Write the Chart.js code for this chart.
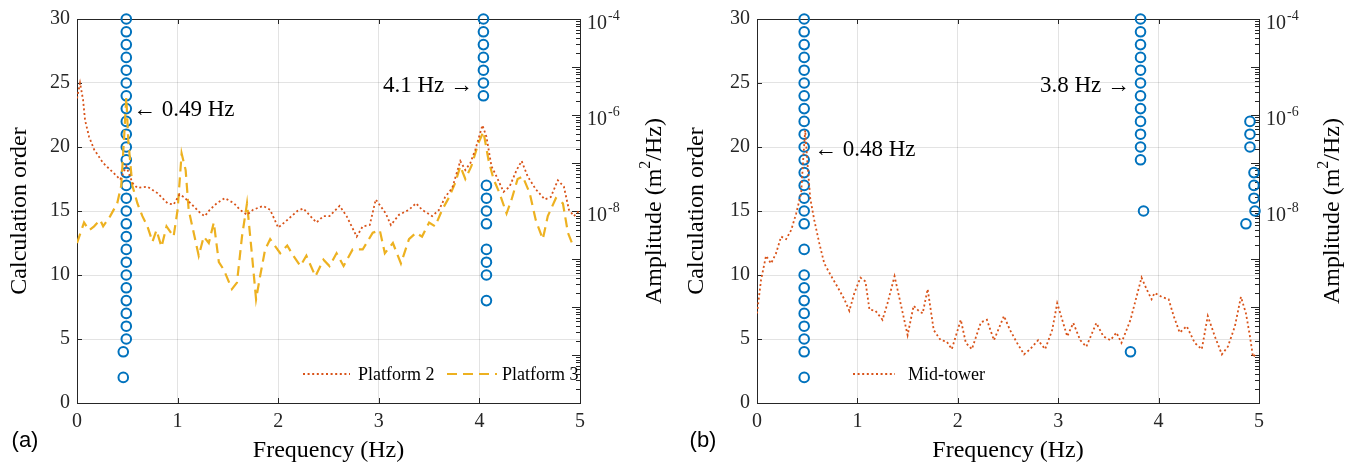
<!DOCTYPE html>
<html>
<head>
<meta charset="utf-8">
<script src="https://cdn.jsdelivr.net/npm/chart.js@4.4.1/dist/chart.umd.min.js"></script>
<style>
  html, body { margin: 0; padding: 0; background: #fff; }
  #wrap { position: relative; width: 1349px; height: 467px; }
  #chA { position: absolute; left: 0; top: 0; }
  #chB { position: absolute; left: 675px; top: 0; }
</style>
</head>
<body>
<div id="wrap">
  <canvas id="chA" width="675" height="467"></canvas>
  <canvas id="chB" width="674" height="467"></canvas>
</div>
<script>
// colors (MATLAB defaults)
var blue = "#0072BD", orange = "#D95319", yellow = "#EDB120", axisCol = "#262626";
var serif = '"Liberation Serif", "Times New Roman", serif';

/* ---- panel (a) ---- */
// Platform 2 spectrum (m^2/Hz)
var freqP2 = [0, 0.03, 0.06, 0.08, 0.12, 0.17, 0.26, 0.36, 0.43, 0.49,
  0.55, 0.6, 0.7, 0.8, 0.9, 0.96, 1.02, 1.06, 1.13, 1.23,
  1.27, 1.32, 1.39, 1.47, 1.56, 1.62, 1.69, 1.75, 1.85, 1.92,
  2.0, 2.09, 2.19, 2.25, 2.32, 2.38, 2.45, 2.51, 2.61, 2.68,
  2.78, 2.84, 2.91, 2.97, 3.07, 3.12, 3.2, 3.3, 3.37, 3.43,
  3.53, 3.6, 3.66, 3.73, 3.81, 3.86, 3.91, 3.96, 4.03, 4.07,
  4.12, 4.17, 4.24, 4.3, 4.37, 4.42, 4.48, 4.56, 4.65, 4.71,
  4.78, 4.84, 4.89, 4.94, 5.0];
var ampP2 = [2.22e-6, 4.64e-6, 2.09e-6, 7.82e-7, 3.52e-7, 1.91e-7, 1.0e-7, 6.31e-8, 4.5e-8, 8.57e-8,
  3.86e-8, 3.02e-8, 3.21e-8, 2.36e-8, 1.45e-8, 1.36e-8, 2.22e-8, 1.96e-8, 1.45e-8, 8.85e-9,
  7.82e-9, 1.06e-8, 1.45e-8, 1.85e-8, 1.45e-8, 1.06e-8, 8.32e-9, 1.06e-8, 1.28e-8, 1.06e-8,
  4.5e-9, 6.5e-9, 1.0e-8, 1.13e-8, 7.82e-9, 5.75e-9, 7.82e-9, 7.82e-9, 1.28e-8, 7.82e-9,
  2.93e-9, 4.79e-9, 5.09e-9, 1.74e-8, 8.85e-9, 5.09e-9, 8.32e-9, 1.06e-8, 1.45e-8, 1.06e-8,
  7.82e-9, 1.06e-8, 1.96e-8, 3.02e-8, 1.1e-7, 7.13e-8, 1.0e-7, 1.91e-7, 6.12e-7, 3.52e-7,
  8.57e-8, 5.25e-8, 2.51e-8, 3.21e-8, 7.13e-8, 1.1e-7, 5.25e-8, 2.84e-8, 1.74e-8, 1.96e-8,
  4.37e-8, 3.21e-8, 1.06e-8, 7.82e-9, 1.06e-8];

// Platform 3 spectrum
var freqP3 = [0, 0.07, 0.12, 0.17, 0.23, 0.26, 0.33, 0.40, 0.44, 0.47,
  0.49, 0.51, 0.55, 0.60, 0.65, 0.70, 0.75, 0.79, 0.84, 0.89,
  0.96, 1.00, 1.04, 1.08, 1.11, 1.16, 1.21, 1.26, 1.31, 1.36,
  1.41, 1.46, 1.54, 1.59, 1.64, 1.69, 1.74, 1.78, 1.82, 1.87,
  1.92, 2.02, 2.09, 2.15, 2.22, 2.28, 2.37, 2.45, 2.51, 2.58,
  2.65, 2.74, 2.84, 2.94, 3.01, 3.06, 3.14, 3.22, 3.30, 3.37,
  3.43, 3.50, 3.56, 3.63, 3.70, 3.76, 3.81, 3.86, 3.92, 3.99,
  4.04, 4.09, 4.14, 4.20, 4.27, 4.32, 4.38, 4.43, 4.50, 4.56,
  4.63, 4.68, 4.76, 4.83, 4.88, 4.92, 4.97];
var ampP3 = [2.15e-9, 5.75e-9, 3.98e-9, 4.79e-9, 6.5e-9, 4.79e-9, 7.82e-9, 1.45e-8, 3.41e-8, 3.98e-7,
  2.36e-6, 2.93e-7, 3.41e-8, 1.45e-8, 7.82e-9, 4.79e-9, 2.29e-9, 3.98e-9, 1.79e-9, 4.79e-9,
  2.93e-9, 1.06e-8, 1.58e-7, 7.13e-8, 1.06e-8, 3.52e-9, 1.17e-9, 2.93e-9, 2.15e-9, 5.75e-9,
  8.57e-10, 5.93e-10, 2.36e-10, 3.21e-10, 2.93e-9, 1.45e-8, 1.17e-9, 1.45e-10, 4.37e-10, 1.58e-9,
  2.59e-9, 1.32e-9, 1.91e-9, 1.17e-9, 7.13e-10, 1.17e-9, 4.37e-10, 9.7e-10, 7.13e-10, 1.32e-9,
  7.13e-10, 1.58e-9, 1.58e-9, 3.52e-9, 3.98e-9, 1.32e-9, 2.15e-9, 8.07e-10, 2.59e-9, 3.52e-9,
  2.93e-9, 5.75e-9, 4.79e-9, 1.06e-8, 1.96e-8, 3.86e-8, 8.57e-8, 4.64e-8, 8.57e-8, 2.59e-7,
  4.5e-7, 1.17e-7, 4.64e-8, 2.36e-8, 8.85e-9, 1.74e-8, 4.64e-8, 5.25e-8, 2.36e-8, 6.5e-9,
  2.59e-9, 7.82e-9, 1.85e-8, 1.45e-8, 3.52e-9, 2.15e-9, 2.03e-9];

// identified frequency per calculation order
var orderFreqA = [0.46, 0.46, 0.49, 0.49, 0.49, 0.49, 0.49, 0.49, 0.49, 0.49,
  0.49, 0.49, 0.49, 0.49, 0.49, 0.49, 0.49, 0.49, 0.49, 0.49,
  0.49, 0.49, 0.49, 0.49, 0.49, 0.49, 0.49, 0.49,
  4.07, 4.07, 4.07, 4.07, 4.07, 4.07, 4.07, 4.07,
  4.04, 4.04, 4.04, 4.04, 4.04, 4.04, 4.04];
var orderA = [2, 4, 5, 6, 7, 8, 9, 10, 11, 12,
  13, 14, 15, 16, 17, 18, 19, 20, 21, 22,
  23, 24, 25, 26, 27, 28, 29, 30,
  8, 10, 11, 12, 14, 15, 16, 17,
  24, 25, 26, 27, 28, 29, 30];

/* ---- panel (b) ---- */
var freqMid = [0, 0.04, 0.09, 0.14, 0.19, 0.24, 0.29, 0.34, 0.39, 0.44,
  0.46, 0.48, 0.50, 0.53, 0.57, 0.62, 0.67, 0.74, 0.80, 0.87,
  0.92, 0.97, 1.03, 1.08, 1.12, 1.18, 1.25, 1.30, 1.37, 1.43,
  1.50, 1.56, 1.61, 1.65, 1.70, 1.76, 1.83, 1.89, 1.94, 2.03,
  2.08, 2.14, 2.23, 2.29, 2.36, 2.46, 2.52, 2.59, 2.66, 2.72,
  2.80, 2.87, 2.94, 2.99, 3.04, 3.09, 3.15, 3.22, 3.28, 3.38,
  3.45, 3.52, 3.58, 3.63, 3.72, 3.78, 3.83, 3.88, 3.93, 3.96,
  4.03, 4.10, 4.15, 4.21, 4.28, 4.36, 4.43, 4.49, 4.56, 4.63,
  4.69, 4.76, 4.82, 4.87, 4.91, 4.94, 4.98];
var ampMid = [7.36e-11, 3.63e-10, 1.17e-9, 8.07e-10, 1.32e-9, 2.93e-9, 2.59e-9, 3.98e-9, 8.85e-9, 2.36e-8,
  1.17e-7, 4.79e-7, 1.17e-7, 1.85e-8, 6.5e-9, 2.15e-9, 8.07e-10, 4.37e-10, 2.67e-10, 1.45e-10,
  8.32e-11, 1.96e-10, 4.1e-10, 3.41e-10, 8.85e-11, 8.32e-11, 5.41e-11, 1.2e-10, 4.37e-10, 1.2e-10,
  2.59e-11, 1.06e-10, 8.32e-11, 7.36e-11, 2.36e-10, 3.31e-11, 2.03e-11, 1.91e-11, 1.32e-11, 5.41e-11,
  1.79e-11, 1.32e-11, 4.79e-11, 5.41e-11, 2.03e-11, 6.5e-11, 3.31e-11, 1.79e-11, 1.03e-11, 1.32e-11,
  2.03e-11, 1.32e-11, 3.31e-11, 1.2e-10, 5.41e-11, 2.44e-11, 4.64e-11, 2.03e-11, 1.49e-11, 4.64e-11,
  2.44e-11, 2.03e-11, 2.93e-11, 1.79e-11, 5.41e-11, 1.63e-10, 4.1e-10, 2.36e-10, 1.45e-10, 1.96e-10,
  1.63e-10, 1.45e-10, 6.5e-11, 2.93e-11, 3.98e-11, 1.79e-11, 1.32e-11, 6.5e-11, 2.44e-11, 1.03e-11,
  1.49e-11, 3.98e-11, 1.63e-10, 7.36e-11, 2.44e-11, 9.12e-12, 1.1e-11];

var orderFreqB = [0.47, 0.47, 0.47, 0.47, 0.47, 0.47, 0.47, 0.47, 0.47, 0.47,
  0.47, 0.47, 0.47, 0.47, 0.47, 0.47, 0.47, 0.47, 0.47, 0.47,
  0.47, 0.47, 0.47, 0.47, 0.47, 0.47,
  3.82, 3.82, 3.82, 3.82, 3.82, 3.82, 3.82, 3.82, 3.82, 3.82, 3.82, 3.82,
  3.85, 3.72,
  4.91, 4.91, 4.91, 4.95, 4.95, 4.95, 4.96, 4.87];
var orderB = [2, 4, 5, 6, 7, 8, 9, 10, 12, 14,
  15, 16, 17, 18, 19, 20, 21, 22, 23, 24,
  25, 26, 27, 28, 29, 30,
  19, 20, 21, 22, 23, 24, 25, 26, 27, 28, 29, 30,
  15, 4,
  20, 21, 22, 16, 17, 18, 15, 14];

// right axis labels
var rightTickVals = [1e-8, 1e-6, 1e-4];
var rightTickExp = ["-8", "-6", "-4"];

function pts(xs, ys) {
  return xs.map(function (x, i) { return { x: x, y: ys[i] }; });
}

function line(ctx, x1, y1, x2, y2) {
  ctx.moveTo(x1, y1);
  ctx.lineTo(x2, y2);
}

// axes box, inward ticks, labels and annotations drawn MATLAB style
function decoPlugin(opt) {
  return {
    id: "deco",
    beforeDatasetsDraw: function (chart) {
      var ctx = chart.ctx, a = chart.chartArea;
      var sx = chart.scales.x, sy = chart.scales.y, sr = chart.scales.yR;
      ctx.save();
      ctx.strokeStyle = axisCol;
      ctx.lineWidth = 1;
      ctx.beginPath();
      sx.ticks.forEach(function (t) {
        var p = Math.round(sx.getPixelForValue(t.value)) + 0.5;
        line(ctx, p, a.bottom, p, a.bottom - 5);
        line(ctx, p, a.top, p, a.top + 5);
      });
      sy.ticks.forEach(function (t) {
        var p = Math.round(sy.getPixelForValue(t.value)) + 0.5;
        line(ctx, a.left, p, a.left + 5, p);
      });
      for (var n = -12; n <= -4; n++) {
        for (var k = 1; k <= 9; k++) {
          var v = k * Math.pow(10, n);
          if (v > 1.0001e-4) break;
          var p = Math.round(sr.getPixelForValue(v)) + 0.5;
          line(ctx, a.right, p, a.right - (k === 1 ? 8 : 4), p);
        }
      }
      ctx.stroke();
      ctx.strokeRect(Math.round(a.left) + 0.5, Math.round(a.top) + 0.5,
        Math.round(a.right - a.left), Math.round(a.bottom - a.top));
      ctx.restore();
    },
    afterDraw: function (chart) {
      var ctx = chart.ctx, a = chart.chartArea, sr = chart.scales.yR;
      ctx.save();
      ctx.fillStyle = "#000";
      ctx.textBaseline = "middle";

      // right tick labels 10^-n
      rightTickVals.forEach(function (v, i) {
        var p = sr.getPixelForValue(v);
        ctx.font = "20px " + serif;
        ctx.textAlign = "left";
        ctx.fillStyle = axisCol;
        ctx.fillText("10", a.right + 7, p + 5);
        var w = ctx.measureText("10").width;
        ctx.font = "14px " + serif;
        ctx.fillText(rightTickExp[i], a.right + 7 + w + 1, p - 3);
      });
      ctx.fillStyle = "#000";

      // axis titles
      var midY = (a.top + a.bottom) / 2;
      ctx.save();
      ctx.translate(opt.leftTitleX, midY);
      ctx.rotate(-Math.PI / 2);
      ctx.font = "24px " + serif;
      ctx.textAlign = "center";
      ctx.fillText("Calculation order", 0, 0);
      ctx.restore();

      ctx.save();
      ctx.translate(opt.rightTitleX, midY);
      ctx.rotate(-Math.PI / 2);
      ctx.textAlign = "left";
      ctx.font = "24px " + serif;
      var p1 = "Amplitude (m", p2 = "2", p3 = "/Hz)";
      var w1 = ctx.measureText(p1).width, w3 = ctx.measureText(p3).width;
      ctx.font = "16px " + serif;
      var w2 = ctx.measureText(p2).width;
      var x0 = -(w1 + w2 + w3) / 2;
      ctx.font = "24px " + serif;
      ctx.fillText(p1, x0, 0);
      ctx.fillText(p3, x0 + w1 + w2, 0);
      ctx.font = "16px " + serif;
      ctx.fillText(p2, x0 + w1, -9);
      ctx.restore();

      ctx.font = "24px " + serif;
      ctx.textAlign = "center";
      ctx.fillText("Frequency (Hz)", (a.left + a.right) / 2, 451);

      ctx.font = "22px \"Liberation Sans\", Arial, sans-serif";
      ctx.fillText(opt.letter, opt.letterX, 441);

      // annotations
      ctx.font = "23px " + serif;
      opt.notes.forEach(function (nt) {
        ctx.textAlign = nt.align;
        ctx.fillText(nt.text, nt.x, nt.y);
      });

      // legend (no box)
      ctx.font = "18px " + serif;
      ctx.textAlign = "left";
      opt.legend.forEach(function (lg) {
        var ds = chart.data.datasets[lg.ds];
        ctx.save();
        ctx.strokeStyle = ds.borderColor;
        ctx.lineWidth = ds.borderWidth;
        ctx.setLineDash(ds.borderDash);
        ctx.beginPath();
        line(ctx, lg.x1, lg.y, lg.x2, lg.y);
        ctx.stroke();
        ctx.restore();
        ctx.fillStyle = "#000";
        ctx.fillText(ds.label, lg.tx, lg.y + 1);
      });
      ctx.restore();
    }
  };
}

function makePanel(id, opt) {
  var datasets = opt.lines.map(function (l) {
    return {
      label: l.label,
      data: pts(l.x, l.y),
      yAxisID: "yR",
      showLine: true,
      pointRadius: 0,
      borderColor: l.color,
      borderWidth: l.width,
      borderDash: l.dash,
      tension: 0,
      order: 1
    };
  });
  datasets.push({
    label: "order",
    data: pts(opt.orderX, opt.orderY),
    yAxisID: "y",
    showLine: false,
    pointRadius: 4.8,
    pointBorderWidth: 2,
    pointBorderColor: blue,
    pointBackgroundColor: "rgba(0,0,0,0)",
    clip: false,
    order: 2
  });

  var gridCol = "rgba(38,38,38,0.13)";
  var tickFont = { family: serif, size: 20 };

  return new Chart(document.getElementById(id), {
    type: "scatter",
    data: { datasets: datasets },
    options: {
      responsive: false,
      animation: false,
      events: [],
      layout: { padding: { top: 19, left: 0, right: 0, bottom: 0 } },
      plugins: { legend: { display: false }, tooltip: { enabled: false } },
      scales: {
        x: {
          type: "linear", min: 0, max: 5,
          ticks: { stepSize: 1, color: axisCol, font: tickFont, padding: 7 },
          grid: { color: gridCol, drawTicks: false },
          border: { display: false },
          afterFit: function (s) { s.height = 64; }
        },
        y: {
          type: "linear", position: "left", min: 0, max: 30,
          ticks: { stepSize: 5, color: axisCol, font: tickFont, padding: 7 },
          grid: { color: gridCol, drawTicks: false },
          border: { display: false },
          afterFit: function (s) { s.width = opt.leftW; }
        },
        yR: {
          type: "logarithmic", position: "right", min: 1e-12, max: 1e-4,
          ticks: { callback: function () { return ""; } },
          grid: { display: false, drawTicks: false },
          border: { display: false },
          afterFit: function (s) { s.width = opt.rightW; }
        }
      }
    },
    plugins: [decoPlugin(opt)]
  });
}

makePanel("chA", {
  leftW: 77, rightW: 95,
  leftTitleX: 20, rightTitleX: 655,
  letter: "(a)", letterX: 25,
  lines: [
    { label: "Platform 2", x: freqP2, y: ampP2, color: orange, width: 1.8, dash: [2, 2.6] },
    { label: "Platform 3", x: freqP3, y: ampP3, color: yellow, width: 2.2, dash: [10, 6] }
  ],
  orderX: orderFreqA, orderY: orderA,
  notes: [
    { text: "\u2190 0.49 Hz", x: 133, y: 110, align: "left" },
    { text: "4.1 Hz \u2192", x: 473, y: 86, align: "right" }
  ],
  legend: [
    { ds: 0, x1: 303, x2: 350, y: 374, tx: 358 },
    { ds: 1, x1: 447, x2: 497, y: 374, tx: 502 }
  ]
});

makePanel("chB", {
  leftW: 82, rightW: 90,
  leftTitleX: 22, rightTitleX: 658,
  letter: "(b)", letterX: 28,
  lines: [
    { label: "Mid-tower", x: freqMid, y: ampMid, color: orange, width: 1.8, dash: [2, 2.6] }
  ],
  orderX: orderFreqB, orderY: orderB,
  notes: [
    { text: "\u2190 0.48 Hz", x: 139, y: 150, align: "left" },
    { text: "3.8 Hz \u2192", x: 455, y: 86, align: "right" }
  ],
  legend: [
    { ds: 0, x1: 178, x2: 220, y: 374, tx: 233 }
  ]
});
</script>
</body>
</html>
